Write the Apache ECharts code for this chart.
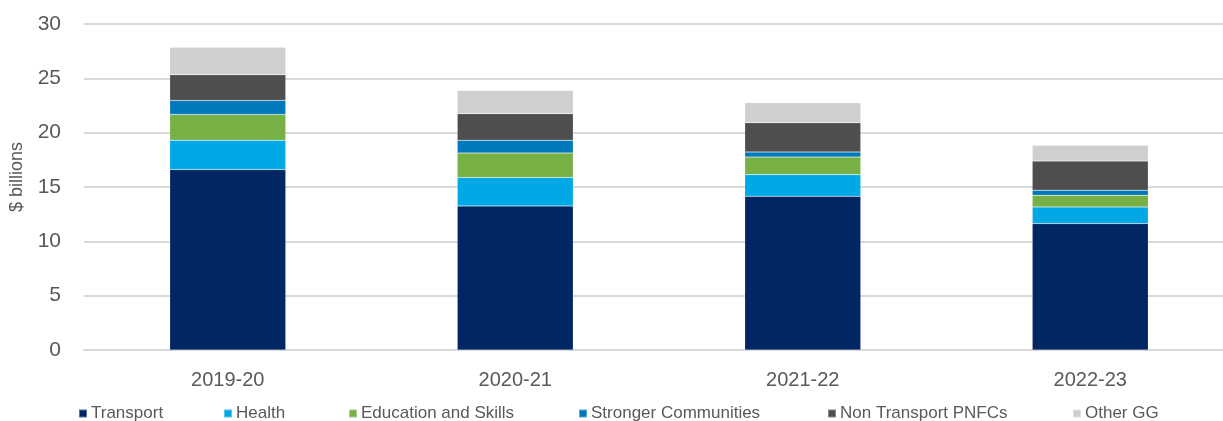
<!DOCTYPE html>
<html><head><meta charset="utf-8">
<script src="https://cdn.jsdelivr.net/npm/echarts@6/dist/echarts.min.js"></script>
<style>html,body{margin:0;padding:0;background:#fff;overflow:hidden;width:1223px;height:421px}#c{width:1234px;height:421px}</style>
</head><body><div id="c"></div>
<script>
const categories = ['2019-20','2020-21','2021-22','2022-23'];
const transport = [16.6, 13.26, 14.15, 11.64];
const health = [2.7, 2.61, 1.99, 1.53];
const education = [2.38, 2.26, 1.62, 1.07];
const stronger = [1.29, 1.17, 0.46, 0.46];
const nonTransport = [2.36, 2.45, 2.7, 2.69];
const otherGG = [2.54, 2.14, 1.84, 1.45];
const yTicks = [0,5,10,15,20,25,30];

const seriesDefs = [
  {name:'Transport', data:transport, color:'#002664'},
  {name:'Health', data:health, color:'#00a9e6'},
  {name:'Education and Skills', data:education, color:'#77b145'},
  {name:'Stronger Communities', data:stronger, color:'#0079bc'},
  {name:'Non Transport PNFCs', data:nonTransport, color:'#4e4e4e'},
  {name:'Other GG', data:otherGG, color:'#cfcfcf'}
];
const legendLeft = [78, 223, 348, 578, 827, 1072];
const font = 'Liberation Sans, Arial, sans-serif';

const chart = echarts.init(document.getElementById('c'), null, {renderer:'canvas'});
chart.setOption({
  animation:false,
  grid:{left:83, right:0, top:24, bottom:71},
  legend: seriesDefs.map((s,i)=>({
    data:[s.name], left:legendLeft[i], top:405, itemWidth:8, itemHeight:8,
    icon:'rect', padding:0,
    textStyle:{fontFamily:font, fontSize:17, color:'#595959', padding:[0,0,0,-1]}
  })),
  xAxis:{type:'category', data:categories,
    axisLine:{lineStyle:{color:'#d9d9d9', width:2}}, axisTick:{show:false},
    axisLabel:{fontFamily:font, fontSize:20, color:'#595959', margin:20}},
  yAxis:{type:'value', min:yTicks[0], max:yTicks[yTicks.length-1], interval:5,
    name:'$ billions', nameLocation:'middle', nameGap:58, nameRotate:90,
    nameTextStyle:{fontFamily:font, fontSize:18, color:'#595959', padding:[0,0,0,20]},
    axisLine:{show:false}, axisTick:{show:false},
    axisLabel:{fontFamily:font, fontSize:21, color:'#595959', margin:23},
    splitLine:{lineStyle:{color:'#d9d9d9', width:2}}},
  series: seriesDefs.map(s=>({
    name:s.name, type:'bar', stack:'a', data:s.data, barWidth:116,
    itemStyle:{color:s.color, borderColor:'rgba(255,255,255,0.35)', borderWidth:0.5}
  }))
});
</script></body></html>
